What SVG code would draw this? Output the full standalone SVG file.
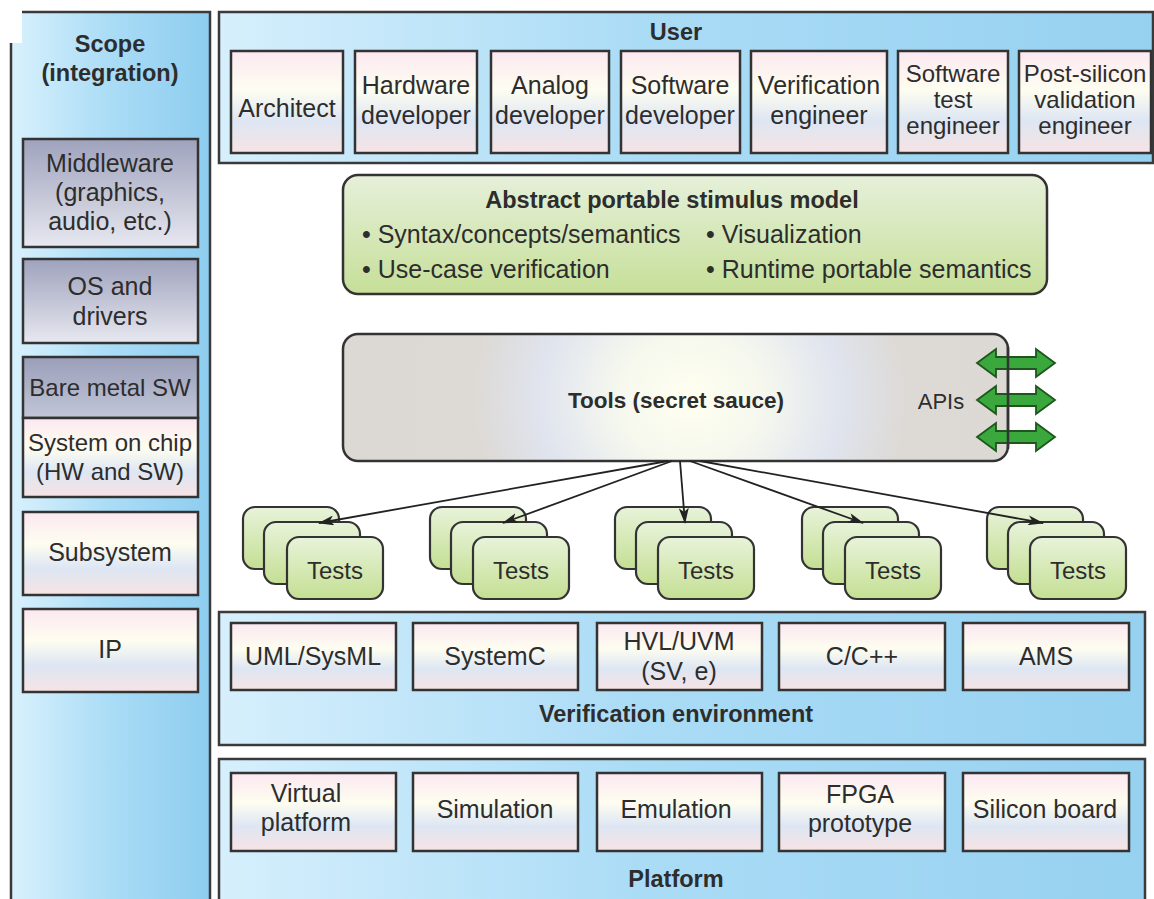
<svg xmlns="http://www.w3.org/2000/svg" width="1154" height="899" viewBox="0 0 1154 899">
<defs>
<linearGradient id="blueL" x1="0" y1="0" x2="1" y2="0">
<stop offset="0" stop-color="#d9f1fd"/><stop offset="0.5" stop-color="#aadcf6"/><stop offset="1" stop-color="#8ecdef"/>
</linearGradient>
<linearGradient id="blueW" x1="0" y1="0" x2="1" y2="0">
<stop offset="0" stop-color="#d6effc"/><stop offset="0.45" stop-color="#abdcf6"/><stop offset="1" stop-color="#96d1f0"/>
</linearGradient>
<linearGradient id="pastel" x1="0" y1="0" x2="0" y2="1">
<stop offset="0" stop-color="#fbe8f1"/><stop offset="0.38" stop-color="#fefdf0"/><stop offset="0.68" stop-color="#dde6f3"/><stop offset="1" stop-color="#f7e3e4"/>
</linearGradient>
<linearGradient id="slate" x1="0" y1="0" x2="0" y2="1">
<stop offset="0" stop-color="#9ea2bc"/><stop offset="1" stop-color="#e7e8f0"/>
</linearGradient>
<linearGradient id="slateD" x1="0" y1="0" x2="0" y2="1">
<stop offset="0" stop-color="#9a9eb9"/><stop offset="1" stop-color="#c2c6d7"/>
</linearGradient>
<linearGradient id="green" x1="0" y1="0" x2="0" y2="1">
<stop offset="0" stop-color="#e6f0da"/><stop offset="1" stop-color="#c6df98"/>
</linearGradient>
<linearGradient id="greenT" x1="0" y1="0" x2="0" y2="1">
<stop offset="0" stop-color="#e8f3da"/><stop offset="1" stop-color="#c4df93"/>
</linearGradient>
<radialGradient id="glow" cx="690" cy="398" r="360" gradientUnits="userSpaceOnUse" gradientTransform="translate(690 398) scale(1 0.9) translate(-690 -398)">
<stop offset="0" stop-color="#fffff0"/><stop offset="0.2" stop-color="#f6f8ee"/><stop offset="0.42" stop-color="#e0e4ee"/><stop offset="0.6" stop-color="#dddad6"/><stop offset="1" stop-color="#dcd8d3"/>
</radialGradient>
<marker id="ah" viewBox="0 0 16 10" refX="15" refY="5" markerWidth="16" markerHeight="10" markerUnits="userSpaceOnUse" orient="auto">
<path d="M0,0 L16,5 L0,10 L4,5 Z" fill="#222"/>
</marker>
</defs>
<style>
text{font-family:"Liberation Sans",Arial,sans-serif;fill:#2d2d2d;text-anchor:middle;font-size:25px}
.b{font-weight:bold;font-size:23.5px}
.l{text-anchor:start}
.t{font-size:24px}
.s{font-size:24px}
.pan{stroke:#3a3a3a;stroke-width:2.5}
.bx{fill:url(#pastel);stroke:#333;stroke-width:2.5}
.card{fill:url(#greenT);stroke:#333;stroke-width:2.2}
.api{fill:#3aa83c;stroke:#1e561e;stroke-width:1.8}
.con{stroke:#222;stroke-width:1.8;fill:none;marker-end:url(#ah)}
</style>
<rect width="1154" height="899" fill="#fff"/>

<g id="scope">
<rect x="11" y="12" width="199" height="900" fill="url(#blueL)" class="pan"/>
<rect x="0" y="0" width="22" height="43" fill="#fff"/>
<text class="b" x="110" y="52">Scope</text>
<text class="b" x="110" y="81">(integration)</text>
</g>
<g id="middleware">
<rect x="23" y="139" width="175" height="108" fill="url(#slate)" stroke="#333" stroke-width="2.5"/>
<text x="110" y="172">Middleware</text><text x="110" y="201">(graphics,</text><text x="110" y="230">audio, etc.)</text>
</g>
<g id="os">
<rect x="23" y="259" width="175" height="84" fill="url(#slate)" stroke="#333" stroke-width="2.5"/>
<text x="110" y="295">OS and</text><text x="110" y="325">drivers</text>
</g>
<g id="baremetal">
<rect x="23" y="357" width="175" height="61" fill="url(#slateD)" stroke="#333" stroke-width="2.5"/>
<text class="s" x="110" y="396">Bare metal SW</text>
</g>
<g id="soc">
<rect x="23" y="418" width="175" height="79" class="bx"/>
<text class="s" x="110" y="451">System on chip</text><text class="s" x="110" y="480">(HW and SW)</text>
</g>
<g id="subsystem">
<rect x="23" y="512" width="175" height="83" class="bx"/>
<text x="110" y="561">Subsystem</text>
</g>
<g id="ip">
<rect x="23" y="609" width="175" height="83" class="bx"/>
<text x="110" y="658">IP</text>
</g>

<g id="user">
<rect x="219" y="12" width="934" height="151" fill="url(#blueW)" class="pan"/>
<text class="b" x="676" y="40">User</text>
</g>
<g id="architect"><rect x="231" y="51" width="112" height="102" class="bx"/><text x="287" y="117">Architect</text></g>
<g id="hwdev"><rect x="355" y="51" width="122" height="102" class="bx"/><text x="416" y="94">Hardware</text><text x="416" y="124">developer</text></g>
<g id="analog"><rect x="491" y="51" width="118" height="102" class="bx"/><text x="550" y="94">Analog</text><text x="550" y="124">developer</text></g>
<g id="swdev"><rect x="621" y="51" width="119" height="102" class="bx"/><text x="680" y="94">Software</text><text x="680" y="124">developer</text></g>
<g id="verifeng"><rect x="751" y="51" width="136" height="102" class="bx"/><text x="819" y="94">Verification</text><text x="819" y="124">engineer</text></g>
<g id="swtest"><rect x="898" y="51" width="110" height="102" class="bx"/><text class="s" x="953" y="82">Software</text><text class="s" x="953" y="108">test</text><text class="s" x="953" y="134">engineer</text></g>
<g id="postsi"><rect x="1019" y="51" width="132" height="102" class="bx"/><text class="s" x="1085" y="82">Post-silicon</text><text class="s" x="1085" y="108">validation</text><text class="s" x="1085" y="134">engineer</text></g>

<g id="stimulus">
<rect x="343" y="175" width="704" height="119" rx="15" fill="url(#green)" stroke="#333" stroke-width="2.5"/>
<text class="b" x="672" y="208">Abstract portable stimulus model</text>
<text class="l" x="362" y="243">• Syntax/concepts/semantics</text>
<text class="l" x="706" y="243">• Visualization</text>
<text class="l" x="362" y="278">• Use-case verification</text>
<text class="l" x="706" y="278">• Runtime portable semantics</text>
</g>

<g id="tools">
<rect x="343" y="334" width="665" height="127" rx="15" fill="url(#glow)" stroke="#333" stroke-width="2.5"/>
<text class="b" x="676" y="408" style="font-size:22.5px">Tools (secret sauce)</text>
<text x="941" y="409" style="font-size:22px">APIs</text>
<polygon class="api" points="977,363 996,349 996,357 1036,357 1036,349 1055,363 1036,377 1036,369 996,369 996,377"/>
<polygon class="api" points="977,400 996,386 996,394 1036,394 1036,386 1055,400 1036,414 1036,406 996,406 996,414"/>
<polygon class="api" points="977,437 996,423 996,431 1036,431 1036,423 1055,437 1036,451 1036,443 996,443 996,451"/>
<line x1="1008" y1="347" x2="1008" y2="449" stroke="#333" stroke-width="2.5"/>
</g>

<g id="tests1"><rect x="243" y="507" width="96" height="62" rx="12" class="card"/><rect x="264" y="522" width="96" height="62" rx="12" class="card"/><rect x="287" y="537" width="96" height="62" rx="12" class="card"/><text class="t" x="335" y="579">Tests</text></g>
<g id="tests2"><rect x="430" y="507" width="96" height="62" rx="12" class="card"/><rect x="451" y="522" width="96" height="62" rx="12" class="card"/><rect x="473" y="537" width="96" height="62" rx="12" class="card"/><text class="t" x="521" y="579">Tests</text></g>
<g id="tests3"><rect x="615" y="507" width="96" height="62" rx="12" class="card"/><rect x="636" y="522" width="96" height="62" rx="12" class="card"/><rect x="658" y="537" width="96" height="62" rx="12" class="card"/><text class="t" x="706" y="579">Tests</text></g>
<g id="tests4"><rect x="802" y="507" width="96" height="62" rx="12" class="card"/><rect x="823" y="522" width="96" height="62" rx="12" class="card"/><rect x="845" y="537" width="96" height="62" rx="12" class="card"/><text class="t" x="893" y="579">Tests</text></g>
<g id="tests5"><rect x="987" y="507" width="96" height="62" rx="12" class="card"/><rect x="1008" y="522" width="96" height="62" rx="12" class="card"/><rect x="1030" y="537" width="96" height="62" rx="12" class="card"/><text class="t" x="1078" y="579">Tests</text></g>

<g id="connectors">
<line class="con" x1="668" y1="461" x2="319" y2="523"/>
<line class="con" x1="672" y1="461" x2="503" y2="523"/>
<line class="con" x1="680" y1="461" x2="685" y2="523"/>
<line class="con" x1="690" y1="461" x2="863" y2="523"/>
<line class="con" x1="700" y1="461" x2="1043" y2="523"/>
</g>

<g id="verifenv">
<rect x="219" y="612" width="926" height="133" fill="url(#blueW)" class="pan"/>
<text class="b" x="676" y="722">Verification environment</text>
</g>
<g id="uml"><rect x="231" y="623" width="165" height="67" class="bx"/><text x="313" y="665">UML/SysML</text></g>
<g id="systemc"><rect x="413" y="623" width="165" height="67" class="bx"/><text x="495" y="665">SystemC</text></g>
<g id="hvl"><rect x="597" y="623" width="165" height="67" class="bx"/><text x="679" y="650">HVL/UVM</text><text x="679" y="680">(SV, e)</text></g>
<g id="cpp"><rect x="779" y="623" width="166" height="67" class="bx"/><text x="862" y="665">C/C++</text></g>
<g id="ams"><rect x="963" y="623" width="166" height="67" class="bx"/><text x="1046" y="665">AMS</text></g>

<g id="platform">
<rect x="219" y="759" width="926" height="160" fill="url(#blueW)" class="pan"/>
<text class="b" x="676" y="887">Platform</text>
</g>
<g id="virtual"><rect x="231" y="773" width="165" height="78" class="bx"/><text x="306" y="802">Virtual</text><text x="306" y="831">platform</text></g>
<g id="simulation"><rect x="413" y="773" width="165" height="78" class="bx"/><text x="495" y="818">Simulation</text></g>
<g id="emulation"><rect x="597" y="773" width="165" height="78" class="bx"/><text x="676" y="818">Emulation</text></g>
<g id="fpga"><rect x="779" y="773" width="166" height="78" class="bx"/><text x="860" y="803">FPGA</text><text x="860" y="832">prototype</text></g>
<g id="silicon"><rect x="963" y="773" width="166" height="78" class="bx"/><text x="1045" y="818">Silicon board</text></g>
</svg>
